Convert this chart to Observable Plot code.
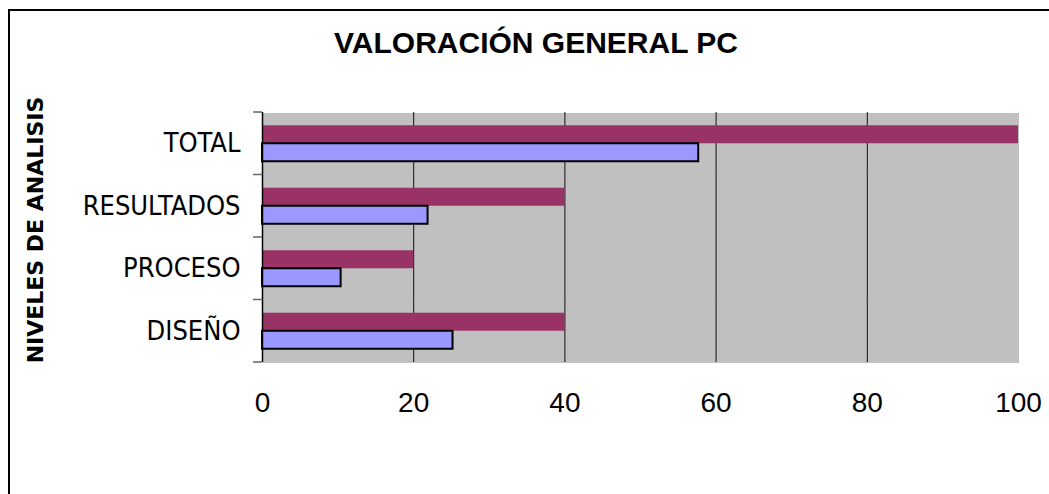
<!DOCTYPE html>
<html>
<head>
<meta charset="utf-8">
<script src="https://cdn.jsdelivr.net/npm/d3@7"></script>
<script src="https://cdn.jsdelivr.net/npm/@observablehq/plot@0.6"></script>
<style>
  html, body { margin: 0; padding: 0; background: #fff; overflow: hidden; }
  #wrap { position: relative; width: 1049px; height: 494px; }
  #border { position: absolute; left: 8px; top: 9px; width: 1100px; height: 600px; border: 2px solid #000; box-sizing: border-box; }
  #chart { position: absolute; left: 0; top: 0; }
</style>
</head>
<body>
<div id="wrap"><div id="border"></div><div id="chart"></div></div>
<script>
const categories = ["TOTAL", "RESULTADOS", "PROCESO", "DISEÑO"];
const maxValues = [100, 40, 20, 40];
const actualValues = [57.7, 21.9, 10.4, 25.2];
const series = ["max", "actual"];
const xTicks = [0, 20, 40, 60, 80, 100];
const gridTicks = [20, 40, 60, 80];
const titleText = "VALORACIÓN GENERAL PC";
const yTitleText = "NIVELES DE ANALISIS";

const maxData = categories.map((c, i) => ({cat: c, serie: "max", value: maxValues[i]}));
const actData = categories.map((c, i) => ({cat: c, serie: "actual", value: actualValues[i]}));

const narrow = "'DejaVu Sans Condensed', 'DejaVu Sans', sans-serif";

const plot = Plot.plot({
  width: 1049,
  height: 494,
  marginLeft: 262,
  marginRight: 31,
  marginTop: 112,
  marginBottom: 132,
  style: {background: "transparent", overflow: "visible"},
  x: {domain: [0, 100]},
  y: {domain: series, paddingInner: 0, paddingOuter: 0.736, round: false, axis: null},
  fy: {domain: categories, padding: 0, round: false},
  marks: [
    Plot.frame({fill: "#c0c0c0", stroke: "none", shapeRendering: "crispEdges"}),
    Plot.ruleX(gridTicks, {stroke: "#111", strokeWidth: 1}),
    Plot.barX(maxData, {fy: "cat", y: "serie", x: "value", fill: "#993366", insetTop: 0, insetBottom: 0}),
    Plot.barX(actData, {fy: "cat", y: "serie", x: "value", fill: "#9999ff", stroke: "#000", strokeWidth: 2, insetTop: 0, insetBottom: 0}),
    Plot.ruleX([0], {stroke: "#000", strokeWidth: 1.5}),
    Plot.axisX({ticks: xTicks, tickSize: 0, tickPadding: 30, label: null, fontSize: 28, fontFamily: "'Liberation Sans', Arial, sans-serif", fill: "#000"}),
    Plot.axisFy({anchor: "left", tickSize: 0, tickPadding: 22, label: null, fontSize: 27, fontFamily: narrow, fill: "#000"})
  ]
});

document.getElementById("chart").appendChild(plot);

const svg = d3.select(plot);
// category boundary ticks from the fy scale
const fy = plot.scale("fy");
const bw = fy.bandwidth;
const bounds = categories.map(c => fy.apply(c)).concat([fy.apply(categories[categories.length - 1]) + bw]);
const xs = plot.scale("x");
const x0 = xs.apply(0);
svg.append("g").selectAll("line").data(bounds).join("line")
  .attr("x1", x0 - 9).attr("x2", x0)
  .attr("y1", d => d).attr("y2", d => d)
  .attr("stroke", "#666").attr("stroke-width", 1.5);

// title
svg.append("text")
  .attr("x", 536).attr("y", 53)
  .attr("text-anchor", "middle")
  .style("font-family", "'Liberation Sans', Arial, sans-serif")
  .style("font-weight", "bold")
  .style("font-size", "30px")
  .attr("fill", "#000")
  .text(titleText);

// y title
svg.append("text")
  .attr("transform", "translate(43,230) rotate(-90)")
  .attr("text-anchor", "middle")
  .style("font-family", "'DejaVu Sans', sans-serif")
  .style("font-weight", "bold")
  .style("font-size", "22px")
  .attr("fill", "#000")
  .text(yTitleText);
</script>
</body>
</html>
